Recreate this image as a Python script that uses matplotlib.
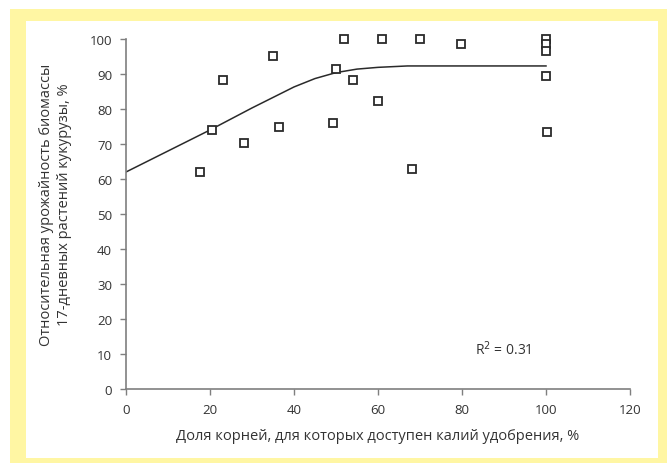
import matplotlib
matplotlib.use("Agg")
import matplotlib.pyplot as plt
from matplotlib.patches import Rectangle

# Observed data: share of roots with access to fertilizer K (%) vs relative yield (%)
root_share = [17.6, 20.4, 23.2, 28.1, 35.1, 36.4, 49.3, 50.1, 52.0, 54.1, 60.1, 60.9,
              68.0, 70.0, 79.7, 100.0, 100.0, 100.0, 100.0, 100.3]
rel_yield = [62.1, 74.0, 88.3, 70.3, 95.2, 75.0, 76.0, 91.4, 100.0, 88.3, 82.3, 100.0,
             62.9, 100.0, 98.5, 100.0, 98.5, 96.5, 89.5, 73.5]

# Fitted trend line
trend_x = [0, 10, 20, 30, 40, 45, 50, 55, 60, 67, 100]
trend_y = [62.0, 68.0, 74.0, 80.3, 86.3, 88.7, 90.4, 91.4, 91.9, 92.3, 92.3]

x_ticks = [0, 20, 40, 60, 80, 100, 120]
y_ticks = [0, 10, 20, 30, 40, 50, 60, 70, 80, 90, 100]

x_label = "Доля корней, для которых доступен калий удобрения, %"
y_label = "Относительная урожайность биомассы\n17-дневных растений кукурузы, %"
r2_text = "R$^2$ = 0.31"

plt.rcParams['font.family'] = ['Open Sans', 'DejaVu Sans']

W, H = 667, 464
fig = plt.figure(figsize=(W / 100, H / 100), dpi=100)
fig.patch.set_facecolor('white')

# yellow frame and white inner panel (pixel coordinates from top-left)
def px_rect(x0, y0, x1, y1, color, z):
    fig.patches.append(Rectangle((x0 / W, 1 - y1 / H), (x1 - x0) / W, (y1 - y0) / H,
                                 transform=fig.transFigure, facecolor=color,
                                 edgecolor='none', zorder=z))

px_rect(10, 10, 667, 464, '#FFF6A3', -2)
px_rect(26, 22, 658, 459, 'white', -1)

left, right = 126 / W, 630 / W
bottom, top = 1 - 390 / H, 1 - 40 / H
ax = fig.add_axes([left, bottom, right - left, top - bottom])
ax.set_facecolor('none')

ax.plot(trend_x, trend_y, color='#2a2a2a', lw=1.1, zorder=2)
ax.plot(root_share, rel_yield, linestyle='none', marker='s', markersize=6,
        markerfacecolor='white', markeredgecolor='#2a2a2a', markeredgewidth=1.3,
        zorder=3, clip_on=False)

ax.set_xlim(0, 120)
ax.set_ylim(0, 100)
ax.set_xticks(x_ticks)
ax.set_yticks(y_ticks)

for s in ['top', 'right']:
    ax.spines[s].set_visible(False)
for s in ['left', 'bottom']:
    ax.spines[s].set_color('#7f7f7f')
    ax.spines[s].set_linewidth(1.2)

ax.tick_params(axis='both', direction='out', length=4, width=1, color='#7f7f7f',
               labelsize=9.5, labelcolor='#333333', pad=6)

ax.set_xlabel(x_label, fontsize=10.5, color='#333333')
ax.xaxis.set_label_coords(0.5, (390 - 429) / 350)
ax.set_ylabel(y_label, fontsize=10.5, color='#333333', linespacing=1.25)
ax.yaxis.set_label_coords((72 - 126) / 504, 0.53)

ax.text(83, 11.5, r2_text, fontsize=10, color='#333333', va='center', ha='left')

fig.savefig('out.png', dpi=100, facecolor=fig.get_facecolor())
